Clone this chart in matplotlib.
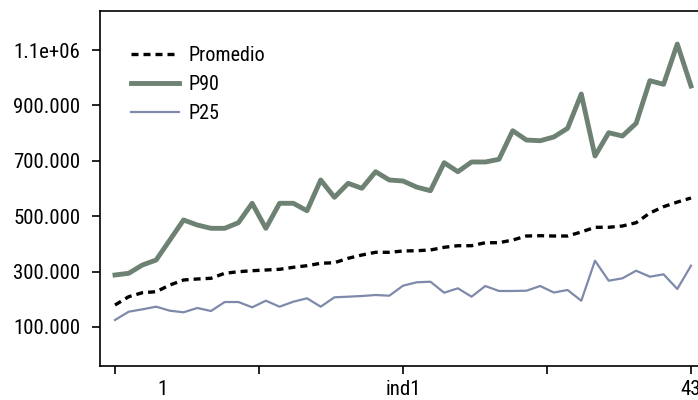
import numpy as np
import matplotlib
matplotlib.use("Agg")
import matplotlib.pyplot as plt

plt.rcParams['font.family'] = ['Roboto Condensed', 'Liberation Sans', 'DejaVu Sans']

# series (43 periods)
promedio = [179400, 209400, 223800, 227400, 251600, 269700, 273300, 275800, 293900, 299600,
            303200, 305800, 308300, 315500, 321300, 330000, 332100, 348000, 359900, 369700,
            369700, 374400, 375400, 378000, 387700, 393500, 393500, 404300, 404300, 414000,
            428500, 429600, 428500, 428500, 443000, 460000, 460000, 464600, 476500, 511500,
            534300, 551000, 565700]
p90 = [287700, 293900, 323800, 341900, 414000, 486300, 468200, 456300, 456300, 476500,
       546600, 456300, 546600, 546600, 519800, 630700, 568200, 618800, 600700, 660600,
       630700, 627100, 605000, 592000, 693100, 660600, 695700, 695700, 705400, 808600,
       775000, 772500, 786000, 817300, 941100, 717300, 801400, 789500, 835400, 989200,
       976100, 1121600, 970000]
p25 = [125300, 155200, 163900, 173300, 158800, 153100, 168600, 157800, 190200, 190200,
       171100, 194900, 173300, 191300, 203600, 173300, 207200, 209400, 211900, 215500,
       213000, 249100, 261400, 263500, 223800, 239700, 209400, 248000, 230000, 230000,
       231000, 248000, 224500, 233600, 194900, 339300, 267100, 275800, 303200, 281600,
       290200, 237200, 321300]
x = np.arange(1, len(promedio) + 1)

ytick_vals = [100000, 300000, 500000, 700000, 900000, 1100000]
ytick_labels = ['100.000', '300.000', '500.000', '700.000', '900.000', '1.1e+06']

fig = plt.figure(figsize=(6.98, 4.0), dpi=100)
ax = fig.add_axes([100/698, 34/400, 598/698, 355/400])

ax.plot(x, promedio, color='black', lw=2.4, dashes=(2.1, 1.5), label='Promedio')
ax.plot(x, p90, color='#6d8273', lw=3.5, label='P90')
ax.plot(x, p25, color='#7f8aab', lw=1.6, label='P25')

ax.set_xlim(1 - 15/13.714, 43 + 7/13.714)
ax.set_ylim(-40800, 1240800)

ax.set_yticks(ytick_vals)
ax.set_yticklabels(ytick_labels)
ax.set_xticks([1, 11.5, 22, 32.5, 43])
ax.set_xticklabels(['', '', 'ind1', '', '43'])
ax.set_xticks([4.46], minor=True)
ax.set_xticklabels(['1'], minor=True)

ax.tick_params(axis='both', which='major', direction='out', length=6, width=1.2,
               labelsize=15, colors='black')
ax.tick_params(axis='y', pad=8)
ax.tick_params(axis='x', which='both', pad=4, labelsize=15)
ax.tick_params(axis='x', which='minor', length=0, pad=10)

for s in ['left', 'bottom', 'top']:
    ax.spines[s].set_linewidth(1.2)
ax.spines['right'].set_visible(False)

ax.legend(loc='upper left', bbox_to_anchor=(0.035, 0.93), frameon=False,
          fontsize=14.5, handlelength=2.4, handletextpad=0.45, labelspacing=0.5,
          borderpad=0)

fig.savefig('out.png', dpi=100)
